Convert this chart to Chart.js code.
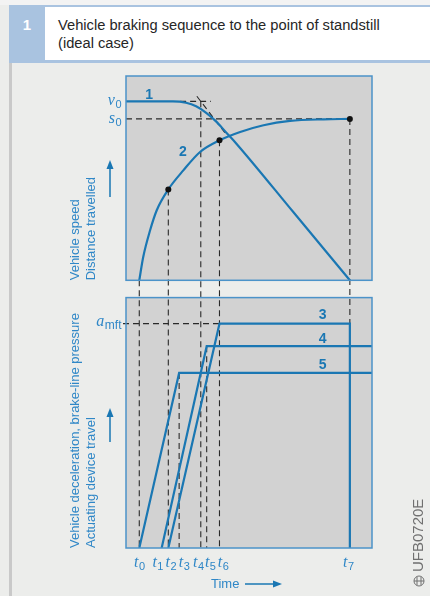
<!DOCTYPE html>
<html>
<head>
<meta charset="utf-8">
<script src="https://cdn.jsdelivr.net/npm/chart.js@4.4.1/dist/chart.umd.min.js"></script>
<style>
  html, body { margin: 0; padding: 0; }
  body { width: 430px; height: 596px; background: #ecedeb; position: relative; overflow: hidden;
         font-family: "Liberation Sans", Arial, sans-serif; }
  #strip { position: absolute; left: 0; top: 0; width: 430px; height: 5px; background: #f3f3f3; }
  #band { position: absolute; left: 9px; top: 5px; width: 421px; height: 58px; background: #a9c3e0; }
  #num { position: absolute; left: 9px; top: 8px; width: 36px; color: #fff; font-weight: bold;
         font-size: 15px; text-align: center; line-height: 34px; }
  #title { position: absolute; left: 45px; top: 7px; width: 385px; height: 53px; background: #fff;
           color: #262626; font-size: 14.7px; line-height: 18px; }
  #title div { padding: 9px 0 0 13px; }
  #bar { position: absolute; left: 9px; top: 63px; width: 3px; height: 533px; background: #c9c9c9; }
  #chart { position: absolute; left: 0; top: 0; }
</style>
</head>
<body>
<div id="strip"></div>
<div id="band"></div>
<div id="num">1</div>
<div id="title"><div>Vehicle braking sequence to the point of standstill<br>(ideal case)</div></div>
<div id="bar"></div>
<canvas id="chart" width="430" height="596"></canvas>
<script>
// time axis runs 0..100, both value axes 0..100
var tickTimes = [5.4, 14.5, 17.2, 21.6, 30.4, 32.8, 38.0, 91.0];
var tickSubs = ["0", "1", "2", "3", "4", "5", "6", "7"];

// upper panel: levels
var v0 = 87.6;
var s0 = 79.0;

// curve 1, vehicle speed
var speedT = [0, 19.1, 24.4, 28.5, 32.6, 36.6, 40.7, 44.8, 68.0, 91.0];
var speedV = [87.6, 87.6, 86.9, 85.2, 82.0, 77.8, 72.4, 67.0, 33.4, 0];

// curve 2, distance travelled
var distT = [5.4, 7.0, 9.8, 12.5, 17.2, 23.3, 30.1, 38.0, 46.4, 55.9, 66.7, 80.3, 91.0];
var distS = [0, 11.4, 24.5, 34.3, 44.5, 53.8, 62.8, 68.5, 72.6, 75.9, 78.0, 78.8, 79.0];

// marked points on curve 2
var dotT = [17.2, 38.0, 91.0];
var dotS = [44.5, 68.5, 79.0];

// tangent to curve 1 and v0 extension
var tangentT = [28.8, 41.0];
var tangentV = [90.1, 71.0];
var v0ExtT = [22.0, 34.5];

// lower panel
var aMft = 89.6;
var decelT = [17.2, 38.0, 91.0, 91.0];     // 3
var decelA = [0, 89.6, 89.6, 0];
var pressT = [14.5, 32.8, 100];            // 4
var pressP = [0, 80.6, 80.6];
var travelT = [5.4, 21.6, 100];            // 5
var travelS = [0, 69.9, 69.9];

var blue = "#1a77b3";
var textBlue = "#2f87c7";
var dash = [6, 4];

function pts(xs, ys) {
    return xs.map(function (x, i) { return { x: x, y: ys[i] }; });
}

// dashed guides: [tick index, from axis, from value, to axis, to value]
var vGuides = [
    [0, "yTop", 0, "yBot", 0],
    [2, "yTop", dotS[0], "yBot", 0],
    [3, "yBot", travelS[1], "yBot", 0],
    [4, "yTop", v0, "yBot", 0],
    [5, "yBot", pressP[1], "yBot", 0],
    [6, "yTop", dotS[1], "yBot", 0],
    [7, "yTop", s0, "yBot", aMft]
];
var labelNudge = [0, -4, 2.5, 5, -2.5, 3.5, 3.5, -1.5];

function subText(ctx, main, sub, x, y, align, mainFont, subFont) {
    ctx.font = mainFont;
    var w1 = ctx.measureText(main).width;
    ctx.font = subFont;
    var w2 = ctx.measureText(sub).width;
    var start = align === "right" ? x - w1 - w2 : x - (w1 + w2) / 2;
    ctx.textAlign = "left";
    ctx.textBaseline = "alphabetic";
    ctx.font = mainFont;
    ctx.fillText(main, start, y);
    ctx.font = subFont;
    ctx.fillText(sub, start + w1 + 0.5, y + 3);
}

function arrow(ctx, x1, y1, x2, y2) {
    var a = Math.atan2(y2 - y1, x2 - x1);
    ctx.beginPath();
    ctx.moveTo(x1, y1);
    ctx.lineTo(x2 - 7 * Math.cos(a), y2 - 7 * Math.sin(a));
    ctx.stroke();
    ctx.beginPath();
    ctx.moveTo(x2, y2);
    ctx.lineTo(x2 - 9 * Math.cos(a) + 3.5 * Math.sin(a), y2 - 9 * Math.sin(a) - 3.5 * Math.cos(a));
    ctx.lineTo(x2 - 9 * Math.cos(a) - 3.5 * Math.sin(a), y2 - 9 * Math.sin(a) + 3.5 * Math.cos(a));
    ctx.closePath();
    ctx.fill();
}

function rotText(ctx, text, x, y) {
    ctx.save();
    ctx.translate(x, y);
    ctx.rotate(-Math.PI / 2);
    ctx.textAlign = "left";
    ctx.textBaseline = "middle";
    ctx.fillText(text, 0, 0);
    ctx.restore();
}

var figurePlugin = {
    id: "figure",
    beforeDatasetsDraw: function (chart) {
        var ctx = chart.ctx, area = chart.chartArea, sc = chart.scales, x = sc.x;
        ctx.save();
        ctx.fillStyle = "#d2d2d2";
        [sc.yTop, sc.yBot].forEach(function (s) {
            ctx.fillRect(area.left, s.top, area.right - area.left, s.bottom - s.top);
        });
        ctx.setLineDash(dash);
        ctx.strokeStyle = "#2a2a2a";
        ctx.lineWidth = 1.1;
        vGuides.forEach(function (g) {
            var px = x.getPixelForValue(tickTimes[g[0]]);
            ctx.beginPath();
            ctx.moveTo(px, sc[g[1]].getPixelForValue(g[2]));
            ctx.lineTo(px, sc[g[3]].getPixelForValue(g[4]));
            ctx.stroke();
        });
        // s0 and a_mft levels
        var ys = sc.yTop.getPixelForValue(s0);
        ctx.beginPath();
        ctx.moveTo(area.left, ys);
        ctx.lineTo(x.getPixelForValue(tickTimes[7]), ys);
        var ya = sc.yBot.getPixelForValue(aMft);
        ctx.moveTo(area.left - 3, ya);
        ctx.lineTo(x.getPixelForValue(tickTimes[6]), ya);
        ctx.stroke();
        ctx.restore();
    },
    afterDatasetsDraw: function (chart) {
        var ctx = chart.ctx, area = chart.chartArea, sc = chart.scales, x = sc.x;
        ctx.save();
        // panel frames
        ctx.strokeStyle = "#4b93c9";
        ctx.lineWidth = 1.5;
        [sc.yTop, sc.yBot].forEach(function (s) {
            ctx.strokeRect(area.left, s.top, area.right - area.left, s.bottom - s.top);
        });
        var serif = 'italic 16px "Liberation Serif", "DejaVu Serif", serif';
        var sans = '11px "Liberation Sans", Arial, sans-serif';
        ctx.fillStyle = textBlue;
        // level labels
        subText(ctx, "v", "0", area.left - 5, sc.yTop.getPixelForValue(v0) + 4, "right", serif, sans);
        subText(ctx, "s", "0", area.left - 5, sc.yTop.getPixelForValue(s0) + 4, "right", serif, sans);
        subText(ctx, "a", "mft", area.left - 5, sc.yBot.getPixelForValue(aMft) + 2, "right", serif, '12px "Liberation Sans", Arial, sans-serif');
        // time ticks
        tickTimes.forEach(function (t, i) {
            subText(ctx, "t", tickSubs[i], x.getPixelForValue(t) + labelNudge[i], area.bottom + 19, "center", serif, sans);
        });
        // axis titles
        ctx.font = '13px "Liberation Sans", Arial, sans-serif';
        rotText(ctx, "Vehicle speed", 75, sc.yTop.bottom);
        rotText(ctx, "Distance travelled", 91, sc.yTop.bottom);
        rotText(ctx, "Vehicle deceleration, brake-line pressure", 75, sc.yBot.bottom);
        rotText(ctx, "Actuating device travel", 91, sc.yBot.bottom);
        ctx.textAlign = "left";
        ctx.textBaseline = "middle";
        ctx.fillText("Time", 211, area.bottom + 36);
        ctx.strokeStyle = blue;
        ctx.fillStyle = blue;
        ctx.lineWidth = 1.5;
        arrow(ctx, 110, 197, 110, 160);
        arrow(ctx, 110, 442, 110, 408);
        arrow(ctx, 245, area.bottom + 36, 282, area.bottom + 36);
        // curve numbers
        ctx.font = 'bold 14px "Liberation Sans", Arial, sans-serif';
        ctx.textAlign = "center";
        ctx.textBaseline = "middle";
        ctx.fillStyle = blue;
        ctx.fillText("1", x.getPixelForValue(9.4), sc.yTop.getPixelForValue(90.6));
        ctx.fillText("2", x.getPixelForValue(23.1), sc.yTop.getPixelForValue(62.8));
        ctx.fillText("3", x.getPixelForValue(79.9), sc.yBot.getPixelForValue(92.9));
        ctx.fillText("4", x.getPixelForValue(79.9), sc.yBot.getPixelForValue(83.6));
        ctx.fillText("5", x.getPixelForValue(79.9), sc.yBot.getPixelForValue(73.0));
        // image code
        ctx.fillStyle = "#707070";
        ctx.strokeStyle = "#707070";
        ctx.font = '15px "Liberation Sans", Arial, sans-serif';
        rotText(ctx, "UFB0720E", 419, 572);
        ctx.lineWidth = 1;
        ctx.beginPath();
        ctx.arc(419, 581, 5, 0, Math.PI * 2);
        ctx.moveTo(414, 581); ctx.lineTo(424, 581);
        ctx.moveTo(417, 577); ctx.lineTo(417, 585);
        ctx.moveTo(421, 577); ctx.lineTo(421, 585);
        ctx.stroke();
        ctx.restore();
    }
};

var curve = { showLine: true, pointRadius: 0, borderColor: blue, borderWidth: 2.2, fill: false };
var guideLine = { showLine: true, pointRadius: 0, borderColor: "#2a2a2a", borderWidth: 1.1, borderDash: dash, yAxisID: "yTop" };

new Chart(document.getElementById("chart"), {
    type: "scatter",
    data: {
        datasets: [
            { data: pts(dotT, dotS), yAxisID: "yTop", pointRadius: 3, pointBackgroundColor: "#111", pointBorderWidth: 0 },
            Object.assign({}, curve, { data: pts(speedT, speedV), yAxisID: "yTop", cubicInterpolationMode: "monotone" }),
            Object.assign({}, curve, { data: pts(distT, distS), yAxisID: "yTop", cubicInterpolationMode: "monotone" }),
            Object.assign({}, curve, { data: pts(decelT, decelA), yAxisID: "yBot" }),
            Object.assign({}, curve, { data: pts(pressT, pressP), yAxisID: "yBot" }),
            Object.assign({}, curve, { data: pts(travelT, travelS), yAxisID: "yBot" }),
            Object.assign({}, guideLine, { data: pts(tangentT, tangentV) }),
            Object.assign({}, guideLine, { data: pts(v0ExtT, [v0, v0]) })
        ]
    },
    options: {
        responsive: false,
        animation: false,
        layout: { padding: { left: 126, right: 58, top: 76, bottom: 48 } },
        plugins: { legend: { display: false }, tooltip: { enabled: false } },
        scales: {
            x: { type: "linear", min: 0, max: 100, display: false },
            yBot: { type: "linear", position: "left", stack: "panels", stackWeight: 250.4, min: 0, max: 100, display: false },
            yGap: { type: "linear", position: "left", stack: "panels", stackWeight: 17.3, min: 0, max: 1, display: false },
            yTop: { type: "linear", position: "left", stack: "panels", stackWeight: 204.3, min: 0, max: 100, display: false }
        }
    },
    plugins: [figurePlugin]
});
</script>
</body>
</html>
